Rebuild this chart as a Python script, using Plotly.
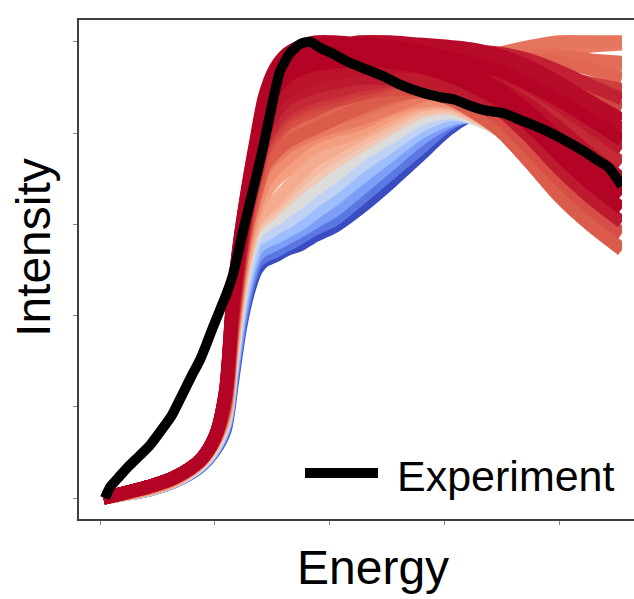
import plotly.graph_objects as go

# ---------------- data ----------------
energy = [0.3, 2.2, 4.3, 6.5, 8.7, 10.0, 10.9, 11.5, 12.2, 12.9, 13.6, 14.3, 15.2, 16.3,
          17.4, 18.7, 20.4, 22.6, 25.2, 27.8, 30.4, 32.2, 34.8, 37.4, 40.0, 42.6, 45.4]

# simulated spectra, blue end of the colour scale
sim_b00 = [0.0, 0.008, 0.018, 0.036, 0.068, 0.105, 0.15, 0.25, 0.37, 0.45, 0.50, 0.52, 0.53, 0.545,
           0.555, 0.575, 0.595, 0.635, 0.69, 0.75, 0.81, 0.835, 0.805, 0.735, 0.66, 0.60, 0.545]
sim_b10 = [0.0, 0.008, 0.018, 0.036, 0.069, 0.107, 0.155, 0.26, 0.38, 0.465, 0.515, 0.53, 0.54, 0.555,
           0.57, 0.59, 0.61, 0.655, 0.71, 0.765, 0.82, 0.835, 0.805, 0.735, 0.66, 0.60, 0.545]
sim_b20 = [0.0, 0.008, 0.018, 0.037, 0.07, 0.109, 0.16, 0.27, 0.395, 0.48, 0.53, 0.545, 0.555, 0.57,
           0.585, 0.605, 0.63, 0.675, 0.73, 0.785, 0.825, 0.835, 0.805, 0.735, 0.66, 0.60, 0.545]
sim_b30 = [0.0, 0.008, 0.019, 0.037, 0.071, 0.111, 0.165, 0.28, 0.41, 0.495, 0.545, 0.56, 0.57, 0.585,
           0.60, 0.625, 0.655, 0.70, 0.75, 0.80, 0.83, 0.835, 0.805, 0.735, 0.66, 0.60, 0.545]
sim_b40 = [0.0, 0.008, 0.019, 0.037, 0.072, 0.113, 0.17, 0.29, 0.425, 0.51, 0.565, 0.575, 0.59, 0.605,
           0.625, 0.65, 0.68, 0.725, 0.77, 0.815, 0.84, 0.835, 0.805, 0.735, 0.66, 0.60, 0.545]
sim_b50 = [0.0, 0.008, 0.019, 0.038, 0.074, 0.116, 0.175, 0.30, 0.44, 0.53, 0.58, 0.595, 0.61, 0.63,
           0.65, 0.675, 0.705, 0.75, 0.79, 0.83, 0.845, 0.835, 0.805, 0.735, 0.66, 0.60, 0.545]
sim_b60 = [0.0, 0.008, 0.019, 0.038, 0.076, 0.12, 0.18, 0.315, 0.455, 0.545, 0.595, 0.61, 0.63, 0.655,
           0.68, 0.705, 0.735, 0.77, 0.81, 0.845, 0.855, 0.84, 0.805, 0.735, 0.66, 0.60, 0.545]
sim_b65 = [0.0, 0.009, 0.02, 0.039, 0.077, 0.122, 0.182, 0.322, 0.462, 0.552, 0.602, 0.62, 0.64, 0.667,
           0.695, 0.722, 0.75, 0.783, 0.82, 0.853, 0.86, 0.842, 0.805, 0.735, 0.66, 0.60, 0.545]
sim_b70 = [0.0, 0.009, 0.02, 0.039, 0.078, 0.124, 0.185, 0.33, 0.47, 0.56, 0.61, 0.63, 0.65, 0.68,
           0.71, 0.74, 0.765, 0.795, 0.83, 0.86, 0.865, 0.845, 0.805, 0.735, 0.66, 0.60, 0.545]
# salmon spectra
sim_s74 = [0.0, 0.009, 0.021, 0.041, 0.079, 0.126, 0.19, 0.34, 0.48, 0.575, 0.63, 0.665, 0.695, 0.72,
           0.745, 0.77, 0.785, 0.805, 0.84, 0.865, 0.868, 0.85, 0.805, 0.735, 0.66, 0.60, 0.545]
sim_s78 = [0.0, 0.01, 0.022, 0.042, 0.08, 0.128, 0.195, 0.345, 0.49, 0.585, 0.645, 0.69, 0.72, 0.745,
           0.77, 0.79, 0.805, 0.82, 0.85, 0.87, 0.87, 0.852, 0.805, 0.735, 0.66, 0.60, 0.545]

# simulated spectra, red end of the colour scale
sim_r01 = [0.0, 0.011, 0.024, 0.044, 0.081, 0.13, 0.200, 0.355, 0.500, 0.600, 0.665, 0.720, 0.745, 0.770,
           0.785, 0.800, 0.815, 0.83, 0.855, 0.88, 0.90, 0.92, 0.945, 0.965, 0.98, 0.99, 0.995]
sim_r02 = [0.0, 0.011, 0.024, 0.044, 0.081, 0.13, 0.204, 0.362, 0.508, 0.609, 0.678, 0.736, 0.765, 0.791,
           0.806, 0.820, 0.83, 0.845, 0.87, 0.90, 0.93, 0.95, 0.975, 0.99, 1.0, 1.0, 1.0]
sim_r03 = [0.0, 0.011, 0.024, 0.044, 0.081, 0.13, 0.205, 0.366, 0.511, 0.614, 0.684, 0.744, 0.774, 0.801,
           0.816, 0.830, 0.84, 0.855, 0.875, 0.895, 0.915, 0.93, 0.95, 0.96, 0.965, 0.96, 0.955]
sim_r04 = [0.0, 0.011, 0.024, 0.044, 0.081, 0.13, 0.207, 0.369, 0.515, 0.618, 0.690, 0.752, 0.784, 0.811,
           0.826, 0.840, 0.85, 0.86, 0.88, 0.90, 0.925, 0.94, 0.955, 0.96, 0.955, 0.94, 0.92]
sim_r05 = [0.0, 0.011, 0.024, 0.044, 0.081, 0.13, 0.202, 0.359, 0.504, 0.605, 0.671, 0.728, 0.755, 0.780,
           0.795, 0.810, 0.83, 0.855, 0.88, 0.89, 0.875, 0.85, 0.805, 0.735, 0.66, 0.60, 0.545]
sim_r06 = [0.0, 0.011, 0.024, 0.044, 0.081, 0.13, 0.209, 0.373, 0.519, 0.623, 0.696, 0.760, 0.794, 0.821,
           0.836, 0.850, 0.87, 0.885, 0.895, 0.895, 0.885, 0.87, 0.83, 0.765, 0.695, 0.635, 0.58]
sim_r07 = [0.0, 0.012, 0.026, 0.046, 0.083, 0.135, 0.218, 0.390, 0.538, 0.645, 0.728, 0.800, 0.843, 0.873,
           0.888, 0.900, 0.91, 0.92, 0.92, 0.915, 0.90, 0.885, 0.85, 0.79, 0.72, 0.66, 0.605]
sim_r08 = [0.0, 0.012, 0.026, 0.046, 0.083, 0.135, 0.226, 0.408, 0.556, 0.668, 0.759, 0.840, 0.891, 0.924,
           0.939, 0.950, 0.955, 0.96, 0.955, 0.945, 0.925, 0.905, 0.87, 0.815, 0.75, 0.69, 0.635]
sim_r09 = [0.0, 0.012, 0.026, 0.046, 0.083, 0.135, 0.232, 0.418, 0.568, 0.681, 0.778, 0.864, 0.921, 0.955,
           0.970, 0.980, 0.985, 0.985, 0.98, 0.965, 0.945, 0.93, 0.895, 0.845, 0.785, 0.725, 0.665]
sim_r10 = [0.0, 0.012, 0.026, 0.046, 0.083, 0.135, 0.221, 0.397, 0.545, 0.654, 0.740, 0.816, 0.862, 0.893,
           0.908, 0.920, 0.93, 0.94, 0.945, 0.945, 0.935, 0.925, 0.90, 0.86, 0.81, 0.755, 0.70]
sim_r11 = [0.0, 0.011, 0.024, 0.044, 0.081, 0.13, 0.214, 0.383, 0.530, 0.636, 0.715, 0.784, 0.823, 0.852,
           0.867, 0.880, 0.89, 0.905, 0.915, 0.925, 0.925, 0.92, 0.905, 0.875, 0.835, 0.785, 0.735]
sim_r12 = [0.0, 0.012, 0.026, 0.046, 0.083, 0.135, 0.225, 0.404, 0.553, 0.663, 0.753, 0.832, 0.882, 0.914,
           0.929, 0.940, 0.95, 0.96, 0.965, 0.965, 0.96, 0.95, 0.93, 0.90, 0.86, 0.815, 0.765]
sim_r13 = [0.0, 0.011, 0.024, 0.044, 0.081, 0.13, 0.212, 0.380, 0.526, 0.632, 0.709, 0.776, 0.813, 0.842,
           0.857, 0.870, 0.88, 0.895, 0.91, 0.925, 0.935, 0.935, 0.925, 0.905, 0.875, 0.835, 0.795]
sim_r14 = [0.0, 0.012, 0.026, 0.046, 0.083, 0.135, 0.230, 0.415, 0.564, 0.677, 0.771, 0.856, 0.911, 0.944,
           0.959, 0.970, 0.98, 0.985, 0.99, 0.99, 0.985, 0.975, 0.955, 0.925, 0.885, 0.845, 0.81]
sim_r15 = [0.0, 0.011, 0.024, 0.044, 0.081, 0.13, 0.211, 0.376, 0.523, 0.627, 0.703, 0.768, 0.804, 0.832,
           0.847, 0.860, 0.87, 0.885, 0.905, 0.925, 0.94, 0.95, 0.955, 0.945, 0.92, 0.89, 0.855]
sim_r16 = [0.0, 0.012, 0.026, 0.046, 0.083, 0.135, 0.223, 0.401, 0.549, 0.659, 0.746, 0.824, 0.872, 0.903,
           0.918, 0.930, 0.94, 0.95, 0.965, 0.975, 0.98, 0.98, 0.975, 0.96, 0.935, 0.905, 0.875]
sim_r17 = [0.0, 0.012, 0.026, 0.046, 0.083, 0.135, 0.235, 0.425, 0.575, 0.690, 0.790, 0.880, 0.940, 0.975,
           0.990, 1.0, 1.0, 0.995, 0.99, 0.98, 0.965, 0.955, 0.935, 0.905, 0.87, 0.83, 0.785]
sim_r18 = [0.0, 0.012, 0.026, 0.046, 0.083, 0.135, 0.233, 0.422, 0.571, 0.686, 0.784, 0.872, 0.930, 0.965,
           0.980, 0.990, 0.99, 1.0, 1.0, 0.995, 0.99, 0.985, 0.97, 0.945, 0.91, 0.87, 0.83]
sim_r19 = [0.0, 0.011, 0.024, 0.044, 0.081, 0.13, 0.205, 0.364, 0.509, 0.611, 0.681, 0.740, 0.770, 0.796,
           0.811, 0.825, 0.835, 0.85, 0.875, 0.90, 0.925, 0.94, 0.96, 0.97, 0.97, 0.96, 0.94]
sim_r20 = [0.0, 0.011, 0.024, 0.044, 0.081, 0.13, 0.216, 0.387, 0.534, 0.641, 0.722, 0.792, 0.833, 0.863,
           0.878, 0.890, 0.90, 0.915, 0.93, 0.94, 0.945, 0.945, 0.94, 0.935, 0.925, 0.91, 0.895]

# position of each simulated spectrum on the blue-to-red colour scale
sim_series = [sim_b00, sim_b10, sim_b20, sim_b30, sim_b40, sim_b50, sim_b60, sim_b65, sim_b70,
              sim_s74, sim_s78,
              sim_r01, sim_r02, sim_r03, sim_r04, sim_r05, sim_r06, sim_r07, sim_r08, sim_r09,
              sim_r10, sim_r11, sim_r12, sim_r13, sim_r14, sim_r15, sim_r16, sim_r17, sim_r18,
              sim_r19, sim_r20]
sim_scale = [0.0, 0.1, 0.2, 0.3, 0.4, 0.5, 0.6, 0.65, 0.7,
             0.74, 0.78,
             0.82, 0.83, 0.85, 0.86, 0.88, 0.90, 0.97, 1.0, 1.0,
             0.98, 0.95, 0.97, 0.93, 0.99, 0.91, 0.96, 1.0, 0.99,
             0.84, 0.92]

# experimental spectrum
exp_energy = [0.43, 0.87, 1.57, 2.35, 3.48, 4.35, 5.22, 6.26, 7.22, 8.09, 8.70, 9.30, 9.83, 10.43,
              11.04, 11.57, 12.35, 13.04, 13.74, 14.35, 14.96, 15.65, 16.52, 17.39, 18.26, 19.13,
              20.26, 21.74, 23.22, 24.78, 26.09, 27.83, 29.57, 30.87, 32.17, 33.65, 35.04, 36.52,
              38.0, 39.39, 40.87, 42.17, 43.22, 44.09, 44.61, 45.4]
exp_intensity = [0.0, 0.024, 0.044, 0.066, 0.094, 0.116, 0.145, 0.182, 0.23, 0.274, 0.303, 0.34,
                 0.375, 0.412, 0.45, 0.49, 0.575, 0.648, 0.72, 0.788, 0.862, 0.935, 0.975, 0.995,
                 1.0, 0.987, 0.974, 0.954, 0.939, 0.923, 0.906, 0.890, 0.879, 0.873, 0.860, 0.849,
                 0.844, 0.829, 0.814, 0.798, 0.778, 0.759, 0.741, 0.728, 0.713, 0.684]

# ---------------- style ----------------
CW = [(0.0, (59, 76, 192)), (0.125, (98, 130, 234)), (0.25, (141, 176, 254)),
      (0.375, (184, 208, 249)), (0.5, (221, 220, 220)), (0.625, (245, 196, 173)),
      (0.75, (244, 154, 123)), (0.875, (222, 96, 77)), (1.0, (180, 4, 38))]


def coolwarm(t):
    for (t0, c0), (t1, c1) in zip(CW[:-1], CW[1:]):
        if t <= t1:
            f = (t - t0) / (t1 - t0) if t1 > t0 else 0
            c = [round(a + (b - a) * f) for a, b in zip(c0, c1)]
            return f"rgb({c[0]},{c[1]},{c[2]})"
    return "rgb(180,4,38)"


FONT = "Liberation Sans, Arial, Helvetica, sans-serif"
FRAME = "#404040"

fig = go.Figure()
order = sorted(range(len(sim_series)), key=lambda i: sim_scale[i])
for i in order:
    fig.add_trace(go.Scatter(
        x=energy, y=sim_series[i], mode="lines",
        line=dict(color=coolwarm(sim_scale[i]), width=13, shape="spline", smoothing=0.8),
        showlegend=False, hoverinfo="skip"))

fig.add_trace(go.Scatter(
    x=exp_energy, y=exp_intensity, mode="lines", name="Experiment",
    line=dict(color="black", width=10, shape="spline", smoothing=0.6),
    showlegend=False))

# plot area ends where the spectra end; frame lines continue to the figure edge
PW = 543.0
X_FRAME_END = 555 / PW

fig.update_layout(
    width=634, height=599,
    margin=dict(l=79, r=12, t=19, b=79),
    paper_bgcolor="white", plot_bgcolor="white",
    xaxis=dict(range=[-1.826, 45.4], tick0=0, dtick=10, showline=False, ticks="outside",
               ticklen=4, tickwidth=1, tickcolor="#888888", showticklabels=False,
               showgrid=False, zeroline=False),
    yaxis=dict(range=[-0.048, 1.050], tick0=0, dtick=0.2, showline=True, linecolor=FRAME,
               linewidth=2, mirror=False, ticks="outside", ticklen=4, tickwidth=1,
               tickcolor="#888888", showticklabels=False, showgrid=False, zeroline=False),
    shapes=[
        dict(type="line", xref="paper", yref="paper", x0=-0.004, x1=X_FRAME_END, y0=0, y1=0,
             line=dict(color=FRAME, width=2), layer="above"),
        dict(type="line", xref="paper", yref="paper", x0=-0.004, x1=X_FRAME_END, y0=1, y1=1,
             line=dict(color=FRAME, width=2), layer="above"),
        dict(type="line", xref="paper", yref="paper", x0=(305 - 79) / PW, x1=(378 - 79) / PW,
             y0=0.0938, y1=0.0938, line=dict(color="black", width=10)),
    ],
    annotations=[
        dict(text="Intensity", textangle=-90, xref="paper", yref="paper", x=0, xshift=-45,
             y=0.543, xanchor="center", yanchor="middle", showarrow=False,
             font=dict(size=48, family=FONT, color="black")),
        dict(text="Energy", xref="paper", yref="paper", x=(373 - 79) / PW, y=0, yshift=-47,
             xanchor="center", yanchor="middle", showarrow=False,
             font=dict(size=48, family=FONT, color="black")),
        dict(text="Experiment", xref="paper", yref="paper", x=(395 - 79) / PW, y=0, yshift=44,
             xanchor="left", yanchor="middle", showarrow=False,
             font=dict(size=43, family=FONT, color="black")),
    ],
)

fig.write_html("out.html", config={"displayModeBar": False},
               post_script="document.body.style.margin='0px';")
